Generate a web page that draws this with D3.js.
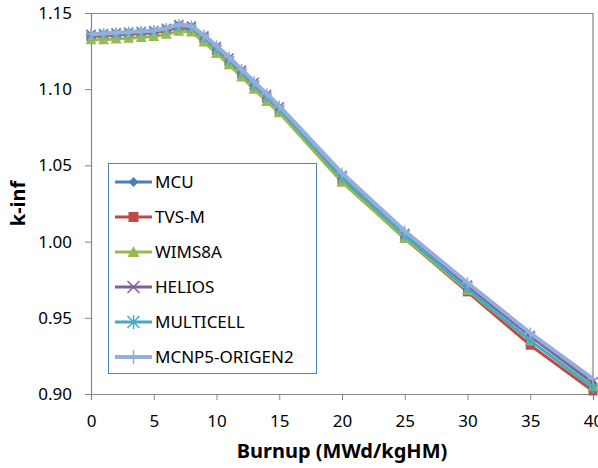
<!DOCTYPE html>
<html lang="en">
<head>
  <meta charset="utf-8">
  <script type="text/javascript" src="https://d3js.org/d3.v7.min.js"></script>
  <style>
    body { margin: 0; background: #fff; }
    svg text { font-family: "Noto Sans", "Open Sans", sans-serif; fill: #000; }
  </style>
</head>
<body>
  <div class="chart"></div>

<script type="text/javascript">

  // burnup steps (MWd/kgHM)
  const burnup = [0, 1, 2, 3, 4, 5, 6, 7, 8, 9, 10, 11, 12, 13, 14, 15, 20, 25, 30, 35, 40];

  const mcu       = [1.1355, 1.1360, 1.1365, 1.1370, 1.1375, 1.1380, 1.1395, 1.1420, 1.1410, 1.1345, 1.1275, 1.1200, 1.1120, 1.1040, 1.0960, 1.0880, 1.0430, 1.0050, 0.9710, 0.9380, 0.9070];
  const tvsm      = [1.1345, 1.1350, 1.1355, 1.1360, 1.1365, 1.1370, 1.1385, 1.1405, 1.1395, 1.1330, 1.1255, 1.1180, 1.1100, 1.1020, 1.0940, 1.0860, 1.0400, 1.0020, 0.9670, 0.9320, 0.9020];
  const wims8a    = [1.1325, 1.1325, 1.1330, 1.1335, 1.1340, 1.1345, 1.1360, 1.1380, 1.1375, 1.1310, 1.1235, 1.1160, 1.1080, 1.1000, 1.0920, 1.0845, 1.0390, 1.0020, 0.9680, 0.9350, 0.9050];
  const helios    = [1.1360, 1.1365, 1.1370, 1.1375, 1.1380, 1.1385, 1.1400, 1.1425, 1.1415, 1.1350, 1.1280, 1.1205, 1.1125, 1.1045, 1.0965, 1.0885, 1.0435, 1.0055, 0.9715, 0.9385, 0.9080];
  const multicell = [1.1355, 1.1360, 1.1365, 1.1370, 1.1375, 1.1380, 1.1395, 1.1415, 1.1405, 1.1340, 1.1265, 1.1190, 1.1110, 1.1030, 1.0950, 1.0870, 1.0420, 1.0040, 0.9690, 0.9350, 0.9040];
  const mcnp      = [1.1360, 1.1365, 1.1370, 1.1375, 1.1380, 1.1385, 1.1400, 1.1425, 1.1415, 1.1355, 1.1285, 1.1210, 1.1130, 1.1050, 1.0970, 1.0890, 1.0450, 1.0070, 0.9730, 0.9400, 0.9100];

  const seriesNames = ['MCU', 'TVS-M', 'WIMS8A', 'HELIOS', 'MULTICELL', 'MCNP5-ORIGEN2'];
  const seriesColors = ['#4a7ebb', '#be4b48', '#98b954', '#7d60a0', '#46aac5', '#95aedb'];
  const seriesMarkers = ['diamond', 'square', 'triangle', 'cross', 'star', 'plus'];
  const seriesValues = [mcu, tvsm, wims8a, helios, multicell, mcnp];

  const xTicks = [0, 5, 10, 15, 20, 25, 30, 35, 40];
  const yTicks = [0.90, 0.95, 1.00, 1.05, 1.10, 1.15];

  const W = 598, H = 468;
  const margin = { top: 13, left: 91, bottom: 74, right: 5 };
  const width = W - margin.left - margin.right;
  const height = H - margin.top - margin.bottom;

  const svg = d3.select('.chart')
    .append('svg')
    .attr('width', W)
    .attr('height', H)
    .append('g')
    .attr('transform', `translate(${margin.left},${margin.top})`);

  const x = d3.scaleLinear().domain([0, 40]).range([0, width]);
  const y = d3.scaleLinear().domain([0.90, 1.15]).range([height, 0]);

  // frame (top and right)
  svg.append('path')
    .attr('d', `M0,0.5H${width}V${height}`)
    .attr('fill', 'none')
    .attr('stroke', '#868686')
    .attr('stroke-width', 1.2);

  const xAxis = svg.append('g')
    .attr('transform', `translate(0,${height})`)
    .call(d3.axisBottom(x).tickValues(xTicks).tickSize(6).tickPadding(15).tickFormat(d3.format('d')));

  const yAxis = svg.append('g')
    .call(d3.axisLeft(y).tickValues(yTicks).tickSize(6).tickPadding(13).tickFormat(d3.format('.2f')));

  [xAxis, yAxis].forEach(a => {
    a.select('.domain').attr('stroke', '#868686').attr('stroke-width', 1.2);
    a.selectAll('.tick line').attr('stroke', '#868686');
    a.selectAll('.tick text').style('font-size', '17px').attr('fill', '#000');
  });

  svg.append('text')
    .attr('x', width / 2)
    .attr('y', height + 64)
    .attr('text-anchor', 'middle')
    .style('font-size', '20px')
    .style('font-weight', 'bold')
    .text('Burnup (MWd/kgHM)');

  svg.append('text')
    .attr('transform', `translate(${-66},${height / 2}) rotate(-90)`)
    .attr('text-anchor', 'middle')
    .style('font-size', '20px')
    .style('font-weight', 'bold')
    .text('k-inf');

  function marker(g, type, color, s) {
    if (type === 'diamond') {
      g.append('path').attr('d', `M0,${-s}L${s},0L0,${s}L${-s},0Z`).attr('fill', color);
    } else if (type === 'square') {
      g.append('rect').attr('x', -s).attr('y', -s).attr('width', 2 * s).attr('height', 2 * s).attr('fill', color);
    } else if (type === 'triangle') {
      g.append('path').attr('d', `M0,${-s - 1}L${s + 1},${s}L${-s - 1},${s}Z`).attr('fill', color);
    } else if (type === 'cross') {
      g.append('path').attr('d', `M${-s},${-s}L${s},${s}M${-s},${s}L${s},${-s}`).attr('stroke', color).attr('stroke-width', 1.5);
    } else if (type === 'star') {
      g.append('path').attr('d', `M${-s},${-s}L${s},${s}M${-s},${s}L${s},${-s}M0,${-s - 1}V${s + 1}`).attr('stroke', color).attr('stroke-width', 1.5);
    } else if (type === 'plus') {
      g.append('path').attr('d', `M${-s - 1},0H${s + 1}M0,${-s - 1}V${s + 1}`).attr('stroke', color).attr('stroke-width', 1.5);
    }
  }

  const line = d3.line()
    .x((d, i) => x(burnup[i]))
    .y(d => y(d));

  seriesValues.forEach((vals, k) => {
    const g = svg.append('g');
    g.append('path')
      .datum(vals)
      .attr('d', line)
      .attr('fill', 'none')
      .attr('stroke', seriesColors[k])
      .attr('stroke-width', k === 5 ? 4 : 3)
      .attr('stroke-linejoin', 'round');
    vals.forEach((v, i) => {
      const m = g.append('g').attr('transform', `translate(${x(burnup[i])},${y(v)})`);
      marker(m, seriesMarkers[k], seriesColors[k], 4.5);
    });
  });

  // legend
  const legend = svg.append('g').attr('transform', `translate(${108 - margin.left},${163 - margin.top})`);
  legend.append('rect')
    .attr('x', 0.5).attr('y', 0.5)
    .attr('width', 208).attr('height', 210)
    .attr('fill', '#fff')
    .attr('stroke', '#4f81bd')
    .attr('stroke-width', 1);

  seriesNames.forEach((name, k) => {
    const cy = 19 + 35 * k;
    legend.append('line')
      .attr('x1', 7).attr('x2', 44)
      .attr('y1', cy).attr('y2', cy)
      .attr('stroke', seriesColors[k])
      .attr('stroke-width', k === 5 ? 4 : 3);
    const m = legend.append('g').attr('transform', `translate(25.5,${cy})`);
    marker(m, seriesMarkers[k], seriesColors[k], k >= 3 ? 6 : 5);
    legend.append('text')
      .attr('x', 47)
      .attr('y', cy)
      .attr('dy', '0.35em')
      .style('font-size', '17px')
      .text(name);
  });

</script>
</body>
</html>
